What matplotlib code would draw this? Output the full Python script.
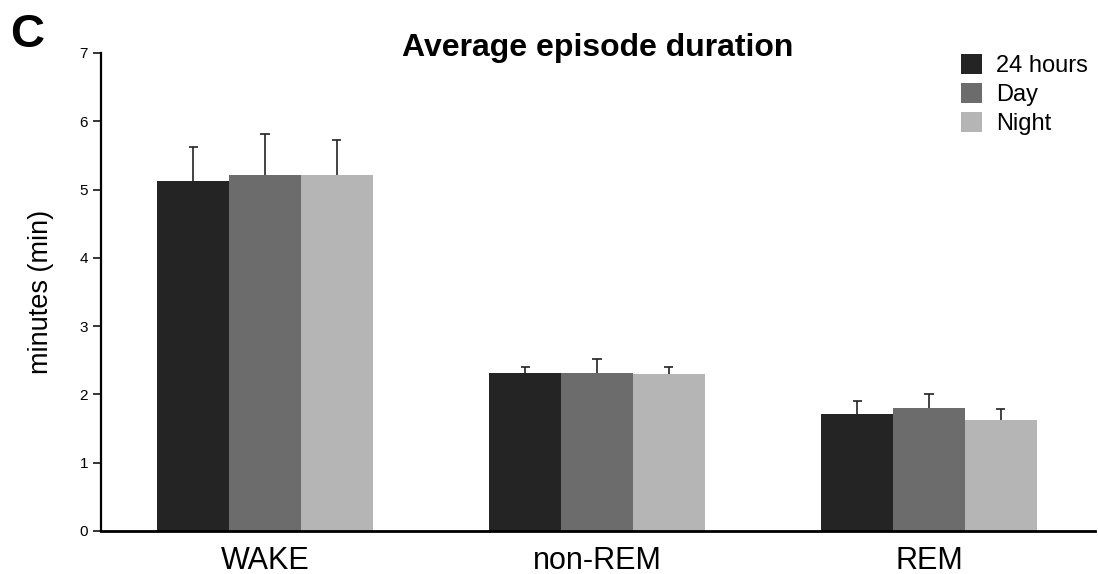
import numpy as np
import matplotlib
matplotlib.use("Agg")
import matplotlib.pyplot as plt

plt.rcParams['font.family'] = ['Liberation Sans', 'DejaVu Sans']

# Episode duration data (minutes), mean and upper SEM
categories = ["WAKE", "non-REM", "REM"]
series_names = ["24 hours", "Day", "Night"]
mean_24h = [5.12, 2.31, 1.71]
mean_day = [5.22, 2.32, 1.80]
mean_night = [5.22, 2.30, 1.62]
err_24h = [0.51, 0.09, 0.20]
err_day = [0.59, 0.20, 0.20]
err_night = [0.50, 0.10, 0.17]
y_ticks = [0, 1, 2, 3, 4, 5, 6, 7]

colors = ["#242424", "#6c6c6c", "#b5b5b5"]
means = [mean_24h, mean_day, mean_night]
errs = [err_24h, err_day, err_night]

fig = plt.figure(figsize=(10.98, 5.74), dpi=100)
ax = fig.add_axes([101 / 1098, 1 - 531 / 574, 994 / 1098, 478 / 574])

x = np.arange(len(categories))
width = 0.216
cap_half = 0.014
handles = []
for i, (m, e, c, name) in enumerate(zip(means, errs, colors, series_names)):
    pos = x + (i - 1) * width
    m = np.asarray(m)
    e = np.asarray(e)
    b = ax.bar(pos, m, width=width, color=c, linewidth=0, label=name, zorder=2)
    handles.append(b)
    # upper-only error bars: stem from bar top plus a cap
    ax.vlines(pos, m, m + e, colors='#222222', linewidth=1.2, zorder=1)
    ax.hlines(m + e, pos - cap_half, pos + cap_half, colors='#222222', linewidth=1.2, zorder=1)

ax.set_xlim(-0.494, 2.5)
ax.set_ylim(0, 7)
ax.set_yticks(y_ticks)
ax.set_xticks(x)
ax.set_xticklabels(categories, fontsize=22)
ax.tick_params(axis='y', direction='out', length=5.8, width=1.1, pad=3.5, labelsize=11)
ax.tick_params(axis='x', length=0, pad=10.5)

for side in ['top', 'right']:
    ax.spines[side].set_visible(False)
ax.spines['left'].set_linewidth(1.6)
ax.spines['bottom'].set_linewidth(2.0)
ax.spines['left'].set_bounds(0, 7)

ax.set_ylabel("minutes (min)", fontsize=19.5)
ax.yaxis.set_label_coords(-0.0473, 0.5)

ax.text(0.5, (531 - 56) / 478, "Average episode duration", transform=ax.transAxes,
        ha='center', va='baseline', fontsize=23, fontweight='bold')

fig.text(10 / 1098, 1 - 47 / 574, "C", fontsize=34, fontweight='bold', va='baseline', ha='left')

leg = ax.legend(handles=handles, loc='upper left', bbox_to_anchor=(961 / 1098, 1 - 54 / 574),
                bbox_transform=fig.transFigure, frameon=False, fontsize=17,
                handlelength=0.9, handleheight=0.9, handletextpad=0.6,
                labelspacing=0.26, borderpad=0, borderaxespad=0)

fig.savefig("out.png", dpi=100)
